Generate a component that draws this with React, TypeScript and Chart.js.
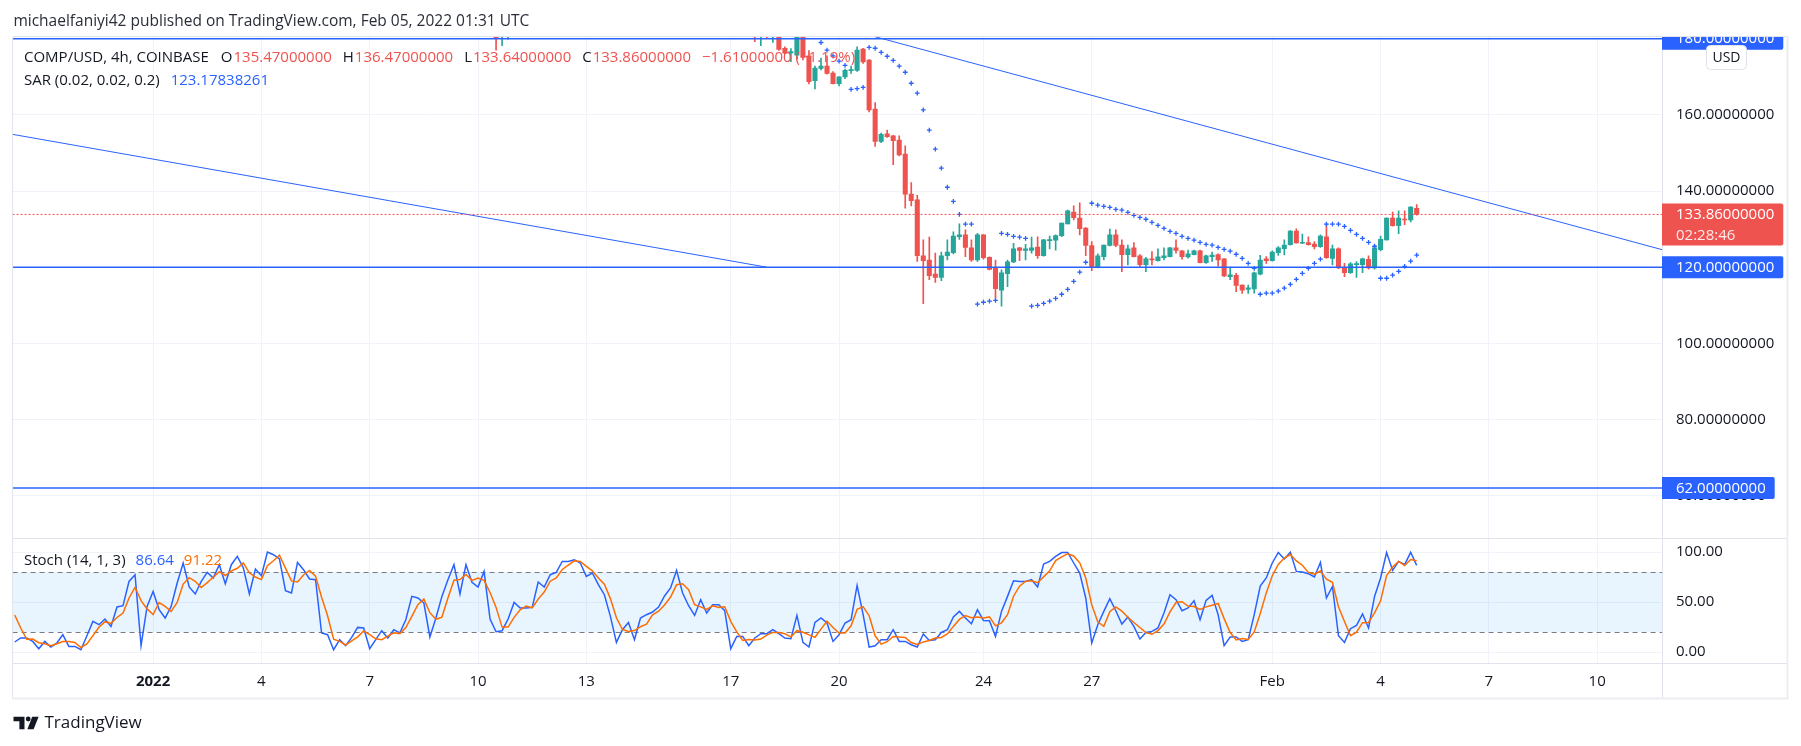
import React, { useEffect, useRef } from 'react';
import { Chart, registerables } from 'chart.js';

Chart.register(...registerables);

// ---------------- data (x = 4h bar index counted from 2022-01-01 00:00 UTC) ----------------
const EARLY_FIRST = 57;
const EARLY_OPEN = [182.0, 180.8, 181.0];
const EARLY_HIGH = [183.0, 183.0, 183.0];
const EARLY_LOW = [177.0, 178.2, 179.9];
const EARLY_CLOSE = [180.0, 182.0, 182.0];

const MAIN_FIRST = 100;
const OPEN = [
  182.5, 180.9, 182.0, 180.9, 182.0, 177.5, 176.3, 175.7, 181.5, 175.5,
  169.0, 172.2, 172.8, 171.0, 168.2, 170.0, 171.6, 171.7, 177.3, 174.4,
  161.5, 153.0, 155.0, 154.5, 153.4, 149.7, 139.2, 137.7, 123.0, 121.9,
  118.2, 117.3, 123.0, 123.8, 128.0, 128.5, 125.1, 121.9, 128.5, 122.6,
  119.9, 114.0, 118.3, 121.4, 125.1, 124.4, 124.4, 125.3, 123.0, 127.0,
  127.1, 128.3, 131.4, 134.5, 132.9, 130.3, 125.7, 120.0, 122.8, 125.7,
  128.5, 125.8, 123.3, 125.1, 123.0, 120.7, 122.2, 121.7, 122.5, 122.8,
  125.1, 124.3, 122.7, 123.3, 124.3, 121.2, 122.8, 123.3, 122.2, 117.5,
  117.9, 115.3, 114.2, 114.3, 118.2, 122.2, 121.7, 123.8, 124.9, 125.9,
  129.5, 126.3, 126.5, 126.1, 125.4, 128.0, 122.3, 124.8, 120.0, 118.6,
  120.7, 120.7, 122.1, 119.8, 124.6, 127.2, 132.9, 130.9, 132.6, 132.4,
  135.47,
];
const HIGH = [
  183.5, 183.0, 183.0, 183.0, 183.0, 177.9, 177.4, 183.0, 182.5, 176.9,
  172.8, 174.9, 175.5, 171.4, 170.0, 172.0, 172.8, 177.9, 177.5, 174.5,
  163.2, 155.2, 156.0, 154.6, 154.5, 151.9, 142.2, 138.9, 127.2, 127.9,
  123.7, 124.0, 127.2, 129.3, 131.4, 129.8, 127.2, 128.9, 128.6, 122.7,
  121.9, 119.3, 121.9, 126.3, 125.2, 126.0, 127.9, 128.0, 127.3, 128.2,
  128.5, 131.6, 135.0, 136.1, 136.9, 130.4, 126.7, 123.5, 125.8, 130.0,
  129.8, 127.2, 125.8, 126.5, 123.3, 122.6, 124.1, 124.8, 125.1, 125.2,
  127.2, 124.4, 124.5, 124.5, 124.5, 123.2, 124.0, 123.5, 122.3, 120.0,
  118.4, 115.4, 115.3, 118.7, 123.1, 122.8, 124.3, 125.4, 127.2, 129.6,
  130.1, 128.7, 128.0, 126.7, 128.5, 131.5, 125.8, 125.1, 121.0, 121.2,
  121.5, 122.4, 123.0, 125.8, 128.2, 133.0, 134.5, 134.8, 134.8, 135.9,
  136.47,
];
const LOW = [
  179.2, 178.2, 180.3, 179.0, 176.9, 176.0, 174.0, 174.6, 174.4, 168.1,
  166.8, 171.8, 170.7, 168.1, 167.6, 169.5, 170.9, 171.4, 173.5, 160.8,
  151.7, 152.7, 154.1, 146.9, 149.2, 135.5, 136.1, 121.5, 110.4, 116.7,
  116.0, 116.5, 121.9, 123.5, 127.3, 122.8, 121.5, 121.5, 122.1, 119.3,
  111.9, 109.8, 114.9, 121.2, 121.7, 121.9, 123.7, 122.3, 122.9, 124.8,
  124.5, 128.0, 131.4, 132.4, 128.5, 123.0, 119.1, 119.8, 121.9, 125.6,
  125.4, 118.8, 120.6, 122.7, 120.0, 118.8, 120.6, 121.6, 121.9, 122.7,
  123.7, 122.1, 122.4, 123.2, 121.1, 121.0, 121.5, 120.3, 117.5, 116.7,
  113.6, 113.1, 113.1, 113.2, 118.0, 121.0, 121.6, 123.1, 123.2, 125.8,
  126.3, 126.2, 125.8, 124.8, 125.2, 122.3, 120.6, 119.6, 117.5, 118.4,
  117.3, 118.6, 119.5, 119.5, 124.3, 127.1, 130.8, 128.8, 131.2, 131.9,
  133.64,
];
const CLOSE = [
  181.0, 182.0, 181.5, 182.2, 177.2, 176.2, 176.6, 181.5, 175.1, 168.7,
  172.3, 172.8, 170.9, 168.2, 170.0, 171.7, 171.9, 177.0, 173.9, 161.3,
  153.0, 154.9, 154.3, 153.2, 149.5, 139.2, 137.5, 123.0, 121.7, 117.8,
  117.3, 123.0, 124.0, 128.2, 128.5, 125.2, 121.9, 128.5, 122.5, 119.4,
  114.4, 118.5, 121.4, 124.8, 124.4, 124.8, 125.1, 123.0, 127.2, 127.2,
  128.3, 131.6, 134.8, 133.0, 130.1, 125.7, 120.0, 123.0, 125.8, 128.5,
  125.7, 123.3, 124.8, 122.8, 120.7, 122.2, 121.9, 122.7, 123.0, 125.1,
  124.4, 122.8, 123.5, 124.3, 121.2, 123.0, 123.2, 121.9, 117.7, 118.0,
  115.2, 114.0, 114.6, 118.5, 121.9, 121.7, 124.0, 125.1, 125.8, 129.5,
  126.4, 126.5, 125.9, 125.4, 128.2, 122.5, 124.8, 119.8, 118.6, 120.9,
  120.9, 122.2, 119.8, 125.1, 127.3, 132.9, 130.9, 132.9, 132.4, 135.8,
  133.86,
];

const SAR_FIRST = 111;
const SAR = [
  179.0, 177.0, 175.5, 174.1, 173.0, 166.7, 166.9, 167.2, 177.7,
  177.5, 176.4, 175.4, 174.3, 172.8, 171.2, 168.3, 165.7, 161.3, 156.0,
  151.0, 146.0, 141.0, 137.3, 133.9, 131.3, 131.3, 110.3, 110.8, 111.1,
  111.3, 128.9, 128.6, 128.1, 127.9, 127.6, 109.8, 110.0, 110.5, 111.1,
  111.8, 112.9, 114.2, 116.3, 118.7, 121.3, 136.8, 136.3, 136.0, 135.7,
  135.2, 135.0, 134.4, 133.6, 133.1, 132.6, 131.8, 131.0, 130.2, 129.4,
  128.9, 128.1, 127.6, 127.1, 126.5, 126.0, 125.8, 125.2, 124.7, 124.2,
  123.4, 122.3, 121.0, 119.7, 112.9, 113.2, 113.2, 113.7, 114.5, 115.5,
  116.8, 118.4, 119.7, 121.0, 122.1, 131.3, 131.3, 131.3, 130.7, 129.7,
  128.6, 127.6, 126.5, 125.5, 117.1, 117.1, 117.9, 118.9, 120.2, 121.6,
  123.18,
];

const STOCH_FIRST = -23;
const STOCH_K = [
  10.0, 14.0, 14.0, 10.6, 3.3, 10.6, 5.0, 9.0, 17.3, 5.6,
  5.6, 2.3, 16.3, 30.6, 27.3, 33.0, 25.6, 45.0, 46.3, 70.6,
  77.3, 6.3, 45.6, 60.6, 42.3, 34.0, 45.6, 69.0, 89.0, 65.0,
  58.0, 70.6, 79.6, 74.0, 87.3, 68.3, 87.3, 95.6, 84.0, 58.0,
  83.0, 76.3, 100.0, 97.3, 93.0, 61.3, 59.0, 89.6, 82.3, 73.0,
  72.3, 19.0, 17.3, 2.3, 12.3, 6.3, 14.6, 24.6, 24.0, 3.3,
  12.3, 21.3, 14.0, 22.3, 19.0, 32.3, 55.6, 54.0, 49.0, 15.0,
  34.0, 55.6, 72.3, 87.3, 58.0, 87.3, 69.6, 65.0, 80.6, 33.0,
  20.3, 21.3, 33.0, 49.6, 44.0, 44.0, 44.6, 70.0, 65.0, 77.3,
  79.6, 90.6, 90.6, 92.3, 89.0, 75.6, 79.0, 67.3, 57.3, 35.6,
  9.6, 22.3, 29.6, 12.3, 34.0, 37.3, 40.0, 45.0, 56.0, 64.0,
  81.6, 59.0, 46.3, 36.6, 52.3, 39.0, 47.3, 47.3, 41.3, 3.3,
  15.6, 15.6, 6.3, 14.0, 18.3, 18.3, 22.3, 18.3, 14.0, 13.3,
  36.6, 9.6, 5.0, 29.6, 34.0, 29.0, 10.6, 17.3, 29.0, 32.3,
  66.6, 37.3, 5.0, 6.3, 12.3, 12.3, 22.3, 10.6, 10.6, 7.3,
  5.0, 18.0, 11.6, 12.3, 19.6, 22.3, 35.0, 40.6, 34.0, 28.3,
  42.3, 31.6, 31.3, 15.6, 40.6, 55.6, 71.3, 70.6, 70.6, 72.3,
  65.0, 88.0, 90.6, 95.6, 99.5, 99.5, 89.0, 79.0, 54.0, 9.0,
  27.3, 40.6, 53.3, 41.3, 28.0, 35.0, 25.6, 13.0, 19.6, 20.6,
  24.0, 39.0, 57.3, 52.3, 41.3, 44.0, 51.3, 32.3, 51.6, 56.6,
  37.3, 6.3, 15.0, 15.0, 10.6, 12.3, 37.3, 66.0, 74.0, 89.0,
  99.6, 93.0, 99.8, 80.6, 80.0, 78.3, 75.0, 89.6, 54.0, 65.6,
  16.3, 9.6, 23.3, 26.6, 38.0, 24.0, 55.6, 74.0, 99.5, 81.6,
  90.6, 87.3, 99.7, 86.64,
];
const STOCH_D = [
  37.0, 24.0, 12.7, 12.9, 9.3, 8.2, 6.3, 8.2, 10.4, 10.6,
  9.5, 4.5, 8.1, 16.4, 24.7, 30.3, 28.6, 34.5, 39.0, 54.0,
  64.7, 51.4, 43.1, 37.5, 49.5, 45.6, 40.6, 49.5, 67.9, 74.3,
  70.7, 64.5, 69.4, 74.7, 80.3, 76.5, 81.0, 83.7, 89.0, 79.2,
  75.0, 72.4, 86.4, 91.2, 96.8, 83.9, 71.1, 70.0, 77.0, 81.6,
  75.9, 54.8, 36.2, 12.9, 10.6, 7.0, 11.1, 15.2, 21.1, 17.3,
  13.2, 12.3, 15.9, 19.2, 18.4, 24.5, 35.6, 47.3, 52.9, 39.3,
  32.7, 34.9, 54.0, 71.7, 72.5, 77.5, 71.6, 74.0, 71.7, 59.5,
  44.6, 24.9, 24.9, 34.6, 42.2, 45.9, 44.2, 52.9, 59.9, 70.8,
  74.0, 82.5, 86.9, 91.2, 90.6, 85.6, 81.2, 74.0, 67.9, 53.4,
  34.2, 22.5, 20.5, 21.4, 25.3, 27.9, 37.1, 40.8, 47.0, 55.0,
  67.2, 68.2, 62.3, 47.3, 45.1, 42.6, 46.2, 44.5, 45.3, 30.6,
  20.1, 11.5, 12.5, 12.0, 12.9, 16.9, 19.6, 19.6, 18.2, 15.2,
  21.3, 19.8, 17.1, 14.7, 22.9, 30.9, 24.5, 19.0, 19.0, 26.2,
  42.6, 45.4, 36.3, 16.2, 7.9, 10.3, 15.6, 15.1, 14.5, 9.5,
  7.6, 10.1, 11.5, 14.0, 14.5, 18.1, 25.6, 32.6, 36.5, 34.3,
  34.9, 34.1, 35.1, 26.2, 29.2, 37.3, 55.8, 65.8, 70.8, 71.2,
  69.3, 75.1, 81.2, 91.4, 95.2, 98.2, 96.0, 89.2, 74.0, 47.3,
  30.1, 25.6, 40.4, 45.1, 40.9, 34.8, 29.5, 24.5, 19.4, 17.7,
  21.4, 27.9, 40.1, 49.5, 50.3, 45.9, 45.5, 42.5, 45.1, 46.8,
  48.5, 33.4, 19.5, 12.1, 13.5, 12.6, 20.1, 38.5, 59.1, 76.3,
  87.5, 93.9, 97.5, 91.1, 86.8, 79.6, 77.8, 81.0, 72.9, 69.7,
  45.3, 30.5, 16.4, 19.8, 29.3, 29.5, 39.2, 51.2, 76.4, 85.0,
  90.6, 86.5, 92.5, 91.22,
];

const TICK_BARS = [0, 18, 36, 54, 72, 96, 114, 138, 156, 186, 204, 222, 240];
const TICK_LABELS = ['2022', '4', '7', '10', '13', '17', '20', '24', '27', 'Feb', '4', '7', '10'];
const PRICE_TICKS = [60, 80, 100, 120, 140, 160];
const STOCH_TICKS = [0, 50, 100];
const STOCH_BANDS = [80, 20];
const LEVELS = [180, 120, 62];
const LOWER_TREND = [{ x: -23.4, y: 154.9 }, { x: 102, y: 120 }];
const UPPER_TREND = [{ x: 110, y: 184.8 }, { x: 250.8, y: 124.6 }];
const LAST_PRICE = 133.86;
const COUNTDOWN = '02:28:46';

const HEADER = 'michaelfaniyi42 published on TradingView.com, Feb 05, 2022 01:31 UTC';
const SYMBOL = 'COMP/USD, 4h, COINBASE';
const OHLC_TEXT = [['O', '135.47000000'], ['H', '136.47000000'], ['L', '133.64000000'], ['C', '133.86000000']];
const CHANGE_TEXT = '\u22121.61000000 (\u22121.19%)';
const SAR_TITLE = 'SAR (0.02, 0.02, 0.2)';
const SAR_VALUE = '123.17838261';
const STOCH_TITLE = 'Stoch (14, 1, 3)';
const STOCH_K_LAST = '86.64';
const STOCH_D_LAST = '91.22';

// ---------------- view / style ----------------
const X_MIN = -23.35;
const X_MAX = 250.77;
const PRICE_MIN = 48.9;
const PRICE_MAX = 180.45;
const STOCH_MIN = -11;
const STOCH_MAX = 114;

const GREEN = '#26a69a';
const RED = '#ef5350';
const BLUE = '#2962ff';
const ORANGE = '#ff6d00';
const TEXT = '#131722';
const GRID = '#f0f3fa';
const FRAME = '#e0e3eb';
const FONT = '"Open Sans", "Noto Sans", sans-serif';

const W = 1801;
const PANE_TOP = 37;
const PANE_SPLIT = 538; // page y of the border between price pane and stoch pane
const SLACK = 26; // extra canvas room so axis label padding never shrinks the panes
const A_H = PANE_SPLIT + SLACK;
const B_TOP = PANE_SPLIT - SLACK;
const B_H = 746 - B_TOP;
const PLOT_LEFT = 12.6;
const AXIS_X = 1662;
const FRAME_RIGHT = 1787.5;

function drawSegments(ctx: CanvasRenderingContext2D, x: number, y: number, segs: [string, string, number][]) {
  for (const [t, c, gap] of segs) {
    ctx.fillStyle = c;
    ctx.fillText(t, x, y);
    x += ctx.measureText(t).width + gap;
  }
}

function hline(ctx: CanvasRenderingContext2D, x1: number, x2: number, y: number) {
  ctx.beginPath();
  ctx.moveTo(x1, y);
  ctx.lineTo(x2, y);
  ctx.stroke();
}
function vline(ctx: CanvasRenderingContext2D, x: number, y1: number, y2: number) {
  ctx.beginPath();
  ctx.moveTo(x, y1);
  ctx.lineTo(x, y2);
  ctx.stroke();
}

function badge(ctx: CanvasRenderingContext2D, yc: number, text: string, color: string, sub?: string) {
  ctx.font = `15px ${FONT}`;
  const tw = ctx.measureText(text).width;
  const h = sub ? 42 : 22;
  const w = 14 + tw + 9;
  ctx.fillStyle = color;
  ctx.beginPath();
  (ctx as any).roundRect(AXIS_X, yc - 11, w, h, [0, 2, 2, 0]);
  ctx.fill();
  ctx.fillStyle = '#ffffff';
  ctx.textBaseline = 'middle';
  ctx.textAlign = 'left';
  ctx.fillText(text, AXIS_X + 14, yc + 0.5);
  if (sub) {
    ctx.fillStyle = 'rgba(255,255,255,0.88)';
    ctx.fillText(sub, AXIS_X + 14, yc + 21.5);
  }
}

const xScaleBase = {
  type: 'linear' as const,
  min: X_MIN,
  max: X_MAX,
  offset: false,
  afterBuildTicks: (s: any) => {
    s.ticks = TICK_BARS.map((v) => ({ value: v }));
  },
  grid: { color: GRID, drawTicks: false, offset: false },
  border: { display: false },
};

const overlayA = {
  id: 'overlayA',
  afterDraw(chart: any) {
    const ctx: CanvasRenderingContext2D = chart.ctx;
    const y = chart.scales.y;
    ctx.save();
    // frame
    ctx.strokeStyle = FRAME;
    ctx.lineWidth = 1;
    hline(ctx, PLOT_LEFT, FRAME_RIGHT, PANE_TOP - 0.5);
    vline(ctx, PLOT_LEFT, PANE_TOP, PANE_SPLIT);
    vline(ctx, AXIS_X + 0.5, PANE_TOP, PANE_SPLIT);
    ctx.lineWidth = 2;
    ctx.strokeStyle = '#eceef2';
    vline(ctx, FRAME_RIGHT, PANE_TOP - 1, PANE_SPLIT);

    // header
    ctx.textBaseline = 'middle';
    ctx.textAlign = 'left';
    ctx.font = `15.5px ${FONT}`;
    ctx.fillStyle = '#2a2e39';
    ctx.fillText(HEADER, 13.4, 21.5);

    // legends
    ctx.font = `15px ${FONT}`;
    const segs: [string, string, number][] = [[SYMBOL, TEXT, 12]];
    for (const [k, v] of OHLC_TEXT) {
      segs.push([k, TEXT, 1]);
      segs.push([v, RED, 11]);
    }
    segs.push([CHANGE_TEXT, RED, 0]);
    drawSegments(ctx, 24, 57.5, segs);
    drawSegments(ctx, 24, 81, [[SAR_TITLE, TEXT, 11], [SAR_VALUE, BLUE, 0]]);

    // price badges clipped to the pane
    ctx.save();
    ctx.beginPath();
    ctx.rect(AXIS_X, PANE_TOP, W - AXIS_X, PANE_SPLIT - PANE_TOP);
    ctx.clip();
    for (const lv of LEVELS) {
      badge(ctx, y.getPixelForValue(lv), lv.toFixed(8), BLUE);
    }
    badge(ctx, y.getPixelForValue(LAST_PRICE), LAST_PRICE.toFixed(8), RED, COUNTDOWN);
    // currency box
    ctx.fillStyle = '#ffffff';
    ctx.strokeStyle = FRAME;
    ctx.lineWidth = 1;
    ctx.beginPath();
    (ctx as any).roundRect(1706.5, 45.5, 40, 24, 4);
    ctx.fill();
    ctx.stroke();
    ctx.fillStyle = TEXT;
    ctx.font = `14px ${FONT}`;
    ctx.textAlign = 'center';
    ctx.fillText('USD', 1726.5, 58);
    ctx.restore();
    ctx.restore();
  },
};

const overlayB = {
  id: 'overlayB',
  beforeDatasetsDraw(chart: any) {
    const ctx: CanvasRenderingContext2D = chart.ctx;
    const y = chart.scales.y;
    const a = chart.chartArea;
    const yTop = y.getPixelForValue(STOCH_BANDS[0]);
    const yBot = y.getPixelForValue(STOCH_BANDS[1]);
    ctx.save();
    ctx.fillStyle = 'rgba(33,150,243,0.1)';
    ctx.fillRect(a.left, yTop, a.right - a.left, yBot - yTop);
    ctx.strokeStyle = '#787b86';
    ctx.lineWidth = 1;
    ctx.setLineDash([5, 4]);
    hline(ctx, a.left, a.right, Math.round(yTop) + 0.5);
    hline(ctx, a.left, a.right, Math.round(yBot) + 0.5);
    ctx.restore();
  },
  afterDraw(chart: any) {
    const ctx: CanvasRenderingContext2D = chart.ctx;
    const a = chart.chartArea;
    const t = a.top;
    ctx.save();
    ctx.strokeStyle = FRAME;
    ctx.lineWidth = 1;
    hline(ctx, PLOT_LEFT, FRAME_RIGHT, t + 0.5);
    hline(ctx, PLOT_LEFT, FRAME_RIGHT, a.bottom + 0.5);
    vline(ctx, PLOT_LEFT, t, t + 160);
    vline(ctx, AXIS_X + 0.5, t, t + 160);
    ctx.strokeStyle = '#eceef2';
    ctx.lineWidth = 2;
    vline(ctx, FRAME_RIGHT, t, t + 161);
    hline(ctx, PLOT_LEFT - 0.5, FRAME_RIGHT + 1, t + 160.5);

    ctx.textBaseline = 'middle';
    ctx.textAlign = 'left';
    ctx.font = `15px ${FONT}`;
    drawSegments(ctx, 24, t + 22.5, [[STOCH_TITLE, TEXT, 10], [STOCH_K_LAST, BLUE, 10], [STOCH_D_LAST, ORANGE, 0]]);

    // TradingView logo
    const ly = t + 185;
    ctx.fillStyle = TEXT;
    ctx.beginPath();
    ctx.rect(13.5, ly - 6.3, 11, 4.6);
    ctx.rect(19.4, ly - 6.3, 5.1, 12.6);
    ctx.fill();
    ctx.beginPath();
    ctx.arc(28.2, ly - 4, 2.4, 0, Math.PI * 2);
    ctx.fill();
    ctx.beginPath();
    ctx.moveTo(32.2, ly - 6.3);
    ctx.lineTo(38.6, ly - 6.3);
    ctx.lineTo(33.6, ly + 6.3);
    ctx.lineTo(27.4, ly + 6.3);
    ctx.closePath();
    ctx.fill();
    ctx.font = `500 17px ${FONT}`;
    ctx.fillText('TradingView', 44.5, ly);
    ctx.restore();
  },
};

export default function App() {
  const refA = useRef<HTMLCanvasElement>(null);
  const refB = useRef<HTMLCanvasElement>(null);

  useEffect(() => {
    const bodies: any[] = [];
    const wicks: any[] = [];
    const colors: string[] = [];
    const addBars = (first: number, o: number[], h: number[], l: number[], c: number[]) => {
      o.forEach((ov, i) => {
        bodies.push({ x: first + i, y: [ov, c[i]] });
        wicks.push({ x: first + i, y: [l[i], h[i]] });
        colors.push(c[i] >= ov ? GREEN : RED);
      });
    };
    addBars(EARLY_FIRST, EARLY_OPEN, EARLY_HIGH, EARLY_LOW, EARLY_CLOSE);
    addBars(MAIN_FIRST, OPEN, HIGH, LOW, CLOSE);

    const sarPts = SAR.map((v, i) => ({ x: SAR_FIRST + i, y: v }));
    const lineDs = (data: any[], width: number, extra: any = {}) => ({
      type: 'line',
      data,
      borderColor: BLUE,
      borderWidth: width,
      pointRadius: 0,
      tension: 0,
      order: 0,
      ...extra,
    });

    const chartA = new Chart(refA.current as HTMLCanvasElement, {
      type: 'bar',
      data: {
        datasets: [
          ...LEVELS.map((lv) => lineDs([{ x: X_MIN, y: lv }, { x: X_MAX, y: lv }], 1.5)),
          lineDs([{ x: X_MIN, y: LAST_PRICE }, { x: X_MAX, y: LAST_PRICE }], 1, { borderColor: RED, borderDash: [2, 2] }),
          lineDs(LOWER_TREND, 1),
          lineDs(UPPER_TREND, 1),
          {
            type: 'line',
            data: sarPts,
            showLine: false,
            pointStyle: 'cross',
            pointRadius: 2.4,
            pointBorderWidth: 1.3,
            pointBorderColor: BLUE,
            borderColor: BLUE,
            order: 0,
          },
          {
            type: 'bar',
            data: bodies,
            backgroundColor: colors,
            barThickness: 4.4,
            minBarLength: 1,
            grouped: false,
            borderWidth: 0,
            order: 1,
          },
          {
            type: 'bar',
            data: wicks,
            backgroundColor: colors,
            barThickness: 1,
            grouped: false,
            borderWidth: 0,
            order: 2,
          },
        ] as any,
      },
      options: {
        responsive: false,
        animation: false,
        events: [],
        layout: { padding: { top: PANE_TOP, left: PLOT_LEFT, right: W - 1788, bottom: SLACK } },
        plugins: { legend: { display: false }, tooltip: { enabled: false } },
        scales: {
          x: {
            ...xScaleBase,
            ticks: { display: false },
            afterFit: (s: any) => {
              s.height = 0;
            },
          },
          y: {
            type: 'linear',
            position: 'right',
            min: PRICE_MIN,
            max: PRICE_MAX,
            afterBuildTicks: (s: any) => {
              s.ticks = PRICE_TICKS.map((v) => ({ value: v }));
            },
            afterFit: (s: any) => {
              s.width = 126;
            },
            ticks: {
              padding: 14,
              color: TEXT,
              font: { family: FONT, size: 15 },
              callback: (v: any) => Number(v).toFixed(8),
            },
            grid: { color: GRID, drawTicks: false },
            border: { display: false },
          },
        } as any,
      } as any,
      plugins: [overlayA],
    });

    const chartB = new Chart(refB.current as HTMLCanvasElement, {
      type: 'line',
      data: {
        datasets: [
          {
            data: STOCH_K.map((v, i) => ({ x: STOCH_FIRST + i, y: v })),
            borderColor: BLUE,
            borderWidth: 1.5,
            pointRadius: 0,
            tension: 0,
            order: 1,
          },
          {
            data: STOCH_D.map((v, i) => ({ x: STOCH_FIRST + i, y: v })),
            borderColor: ORANGE,
            borderWidth: 1.5,
            pointRadius: 0,
            tension: 0,
            order: 0,
          },
        ],
      },
      options: {
        responsive: false,
        animation: false,
        events: [],
        layout: { padding: { top: SLACK, left: PLOT_LEFT, right: W - 1788, bottom: 48 } },
        plugins: { legend: { display: false }, tooltip: { enabled: false } },
        scales: {
          x: {
            ...xScaleBase,
            afterFit: (s: any) => {
              s.height = 35;
            },
            ticks: {
              autoSkip: false,
              maxRotation: 0,
              minRotation: 0,
              padding: 10,
              color: TEXT,
              font: (c: any) => ({ family: FONT, size: 15, weight: c.tick && c.tick.value === 0 ? 'bold' : 'normal' }),
              callback: (v: any) => {
                const i = TICK_BARS.indexOf(Number(v));
                return i >= 0 ? TICK_LABELS[i] : '';
              },
            },
          },
          y: {
            type: 'linear',
            position: 'right',
            min: STOCH_MIN,
            max: STOCH_MAX,
            afterBuildTicks: (s: any) => {
              s.ticks = STOCH_TICKS.map((v) => ({ value: v }));
            },
            afterFit: (s: any) => {
              s.width = 126;
            },
            ticks: {
              padding: 14,
              color: TEXT,
              font: { family: FONT, size: 15 },
              callback: (v: any) => Number(v).toFixed(2),
            },
            grid: { color: GRID, drawTicks: false },
            border: { display: false },
          },
        } as any,
      } as any,
      plugins: [overlayB],
    });

    return () => {
      chartA.destroy();
      chartB.destroy();
    };
  }, []);

  return (
    <div style={{ position: 'fixed', left: 0, top: 0, width: W, height: 746, background: '#ffffff', overflow: 'hidden' }}>
      <canvas ref={refA} width={W} height={A_H} style={{ position: 'absolute', left: 0, top: 0, width: W, height: A_H }} />
      <canvas ref={refB} width={W} height={B_H} style={{ position: 'absolute', left: 0, top: B_TOP, width: W, height: B_H }} />
    </div>
  );
}
